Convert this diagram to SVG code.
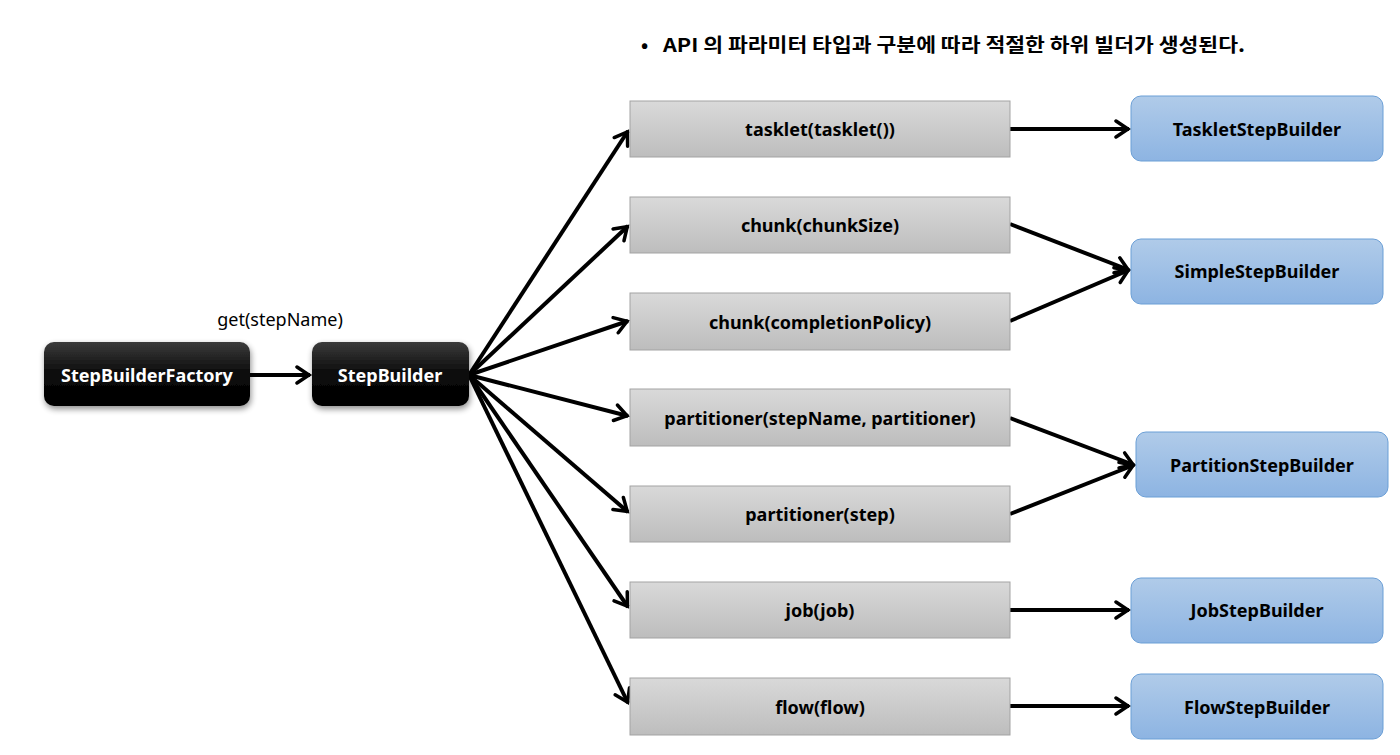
<svg xmlns="http://www.w3.org/2000/svg" width="1400" height="755" viewBox="0 0 1400 755">
<defs>
<linearGradient id="gBlack" x1="0" y1="0" x2="0" y2="1"><stop offset="0" stop-color="#3c3c3c"/><stop offset="0.5" stop-color="#0a0a0a"/><stop offset="1" stop-color="#000"/></linearGradient>
<linearGradient id="gGray" x1="0" y1="0" x2="0" y2="1"><stop offset="0" stop-color="#d9d9d9"/><stop offset="1" stop-color="#bdbdbd"/></linearGradient>
<linearGradient id="gBlue" x1="0" y1="0" x2="0" y2="1"><stop offset="0" stop-color="#b0cbe9"/><stop offset="1" stop-color="#8db4e2"/></linearGradient>
<filter id="shadow" x="-20%" y="-30%" width="140%" height="160%"><feGaussianBlur in="SourceAlpha" stdDeviation="3"/><feOffset dx="1" dy="3" result="b"/><feComponentTransfer><feFuncA type="linear" slope="0.45"/></feComponentTransfer><feMerge><feMergeNode/><feMergeNode in="SourceGraphic"/></feMerge></filter>
<marker id="arr" markerUnits="userSpaceOnUse" markerWidth="20" markerHeight="20" viewBox="-16 -10 20 20" refX="0" refY="0" orient="auto"><path d="M-13,-8 L-1,0 L-13,8" fill="none" stroke="#000" stroke-width="3.5" stroke-linecap="round" stroke-linejoin="miter"/></marker>
</defs>
<style>
text{font-family:"Noto Sans","Noto Sans CJK KR",sans-serif;font-weight:bold;font-size:18px;text-anchor:middle;dominant-baseline:central;fill:#000}
.wt{fill:#fff}
.blk{fill:url(#gBlack);filter:url(#shadow)}
.gry{fill:url(#gGray);stroke:#a3a3a3;stroke-width:1}
.blu{fill:url(#gBlue);stroke:#6b9fd6;stroke-width:1}
.c line{stroke:#000;stroke-width:4;marker-end:url(#arr)}
.title{font-family:"Noto Sans CJK KR","Noto Sans",sans-serif;text-anchor:start;font-size:19px}
.lbl{font-weight:normal}
</style>
<rect width="1400" height="755" fill="#fff"/>
<text class="title" x="641" y="43">•</text>
<text class="title" x="663" y="43" textLength="582" lengthAdjust="spacingAndGlyphs">API 의 파라미터 타입과 구분에 따라 적절한 하위 빌더가 생성된다.</text>
<g class="c">
<line x1="250" y1="375" x2="310" y2="375"/>
<line x1="469" y1="375" x2="628" y2="131"/>
<line x1="469" y1="375" x2="628" y2="226"/>
<line x1="469" y1="375" x2="628" y2="321"/>
<line x1="469" y1="375" x2="628" y2="416"/>
<line x1="469" y1="375" x2="628" y2="512"/>
<line x1="469" y1="375" x2="628" y2="607"/>
<line x1="469" y1="375" x2="628" y2="703"/>
<line x1="1010" y1="129" x2="1129" y2="129"/>
<line x1="1010" y1="224" x2="1129" y2="270"/>
<line x1="1010" y1="321" x2="1129" y2="270"/>
<line x1="1010" y1="418" x2="1134" y2="465"/>
<line x1="1010" y1="514" x2="1134" y2="465"/>
<line x1="1010" y1="610" x2="1129" y2="610"/>
<line x1="1010" y1="706" x2="1129" y2="706"/>
</g>
<text class="lbl" x="280" y="319">get(stepName)</text>
<g id="stepBuilderFactory"><rect class="blk" x="44" y="342" width="206" height="64" rx="10"/><text class="wt" x="147" y="375">StepBuilderFactory</text></g>
<g id="stepBuilder"><rect class="blk" x="312" y="342" width="157" height="64" rx="10"/><text class="wt" x="390" y="375">StepBuilder</text></g>
<g id="tasklet"><rect class="gry" x="630" y="101" width="380" height="56"/><text x="820" y="129">tasklet(tasklet())</text></g>
<g id="chunkSize"><rect class="gry" x="630" y="197" width="380" height="56"/><text x="820" y="225">chunk(chunkSize)</text></g>
<g id="chunkPolicy"><rect class="gry" x="630" y="293" width="380" height="57"/><text x="820" y="322">chunk(completionPolicy)</text></g>
<g id="partitionerName"><rect class="gry" x="630" y="389" width="380" height="57"/><text x="820" y="418">partitioner(stepName, partitioner)</text></g>
<g id="partitionerStep"><rect class="gry" x="630" y="486" width="380" height="56"/><text x="820" y="514">partitioner(step)</text></g>
<g id="job"><rect class="gry" x="630" y="582" width="380" height="56"/><text x="820" y="610">job(job)</text></g>
<g id="flow"><rect class="gry" x="630" y="678" width="380" height="57"/><text x="820" y="707">flow(flow)</text></g>
<g id="taskletStepBuilder"><rect class="blu" x="1131" y="96" width="252" height="65" rx="10"/><text x="1257" y="129">TaskletStepBuilder</text></g>
<g id="simpleStepBuilder"><rect class="blu" x="1131" y="239" width="252" height="65" rx="10"/><text x="1257" y="271">SimpleStepBuilder</text></g>
<g id="partitionStepBuilder"><rect class="blu" x="1136" y="432" width="252" height="65" rx="10"/><text x="1262" y="465">PartitionStepBuilder</text></g>
<g id="jobStepBuilder"><rect class="blu" x="1131" y="578" width="252" height="65" rx="10"/><text x="1257" y="610">JobStepBuilder</text></g>
<g id="flowStepBuilder"><rect class="blu" x="1131" y="674" width="252" height="65" rx="10"/><text x="1257" y="707">FlowStepBuilder</text></g>
</svg>
